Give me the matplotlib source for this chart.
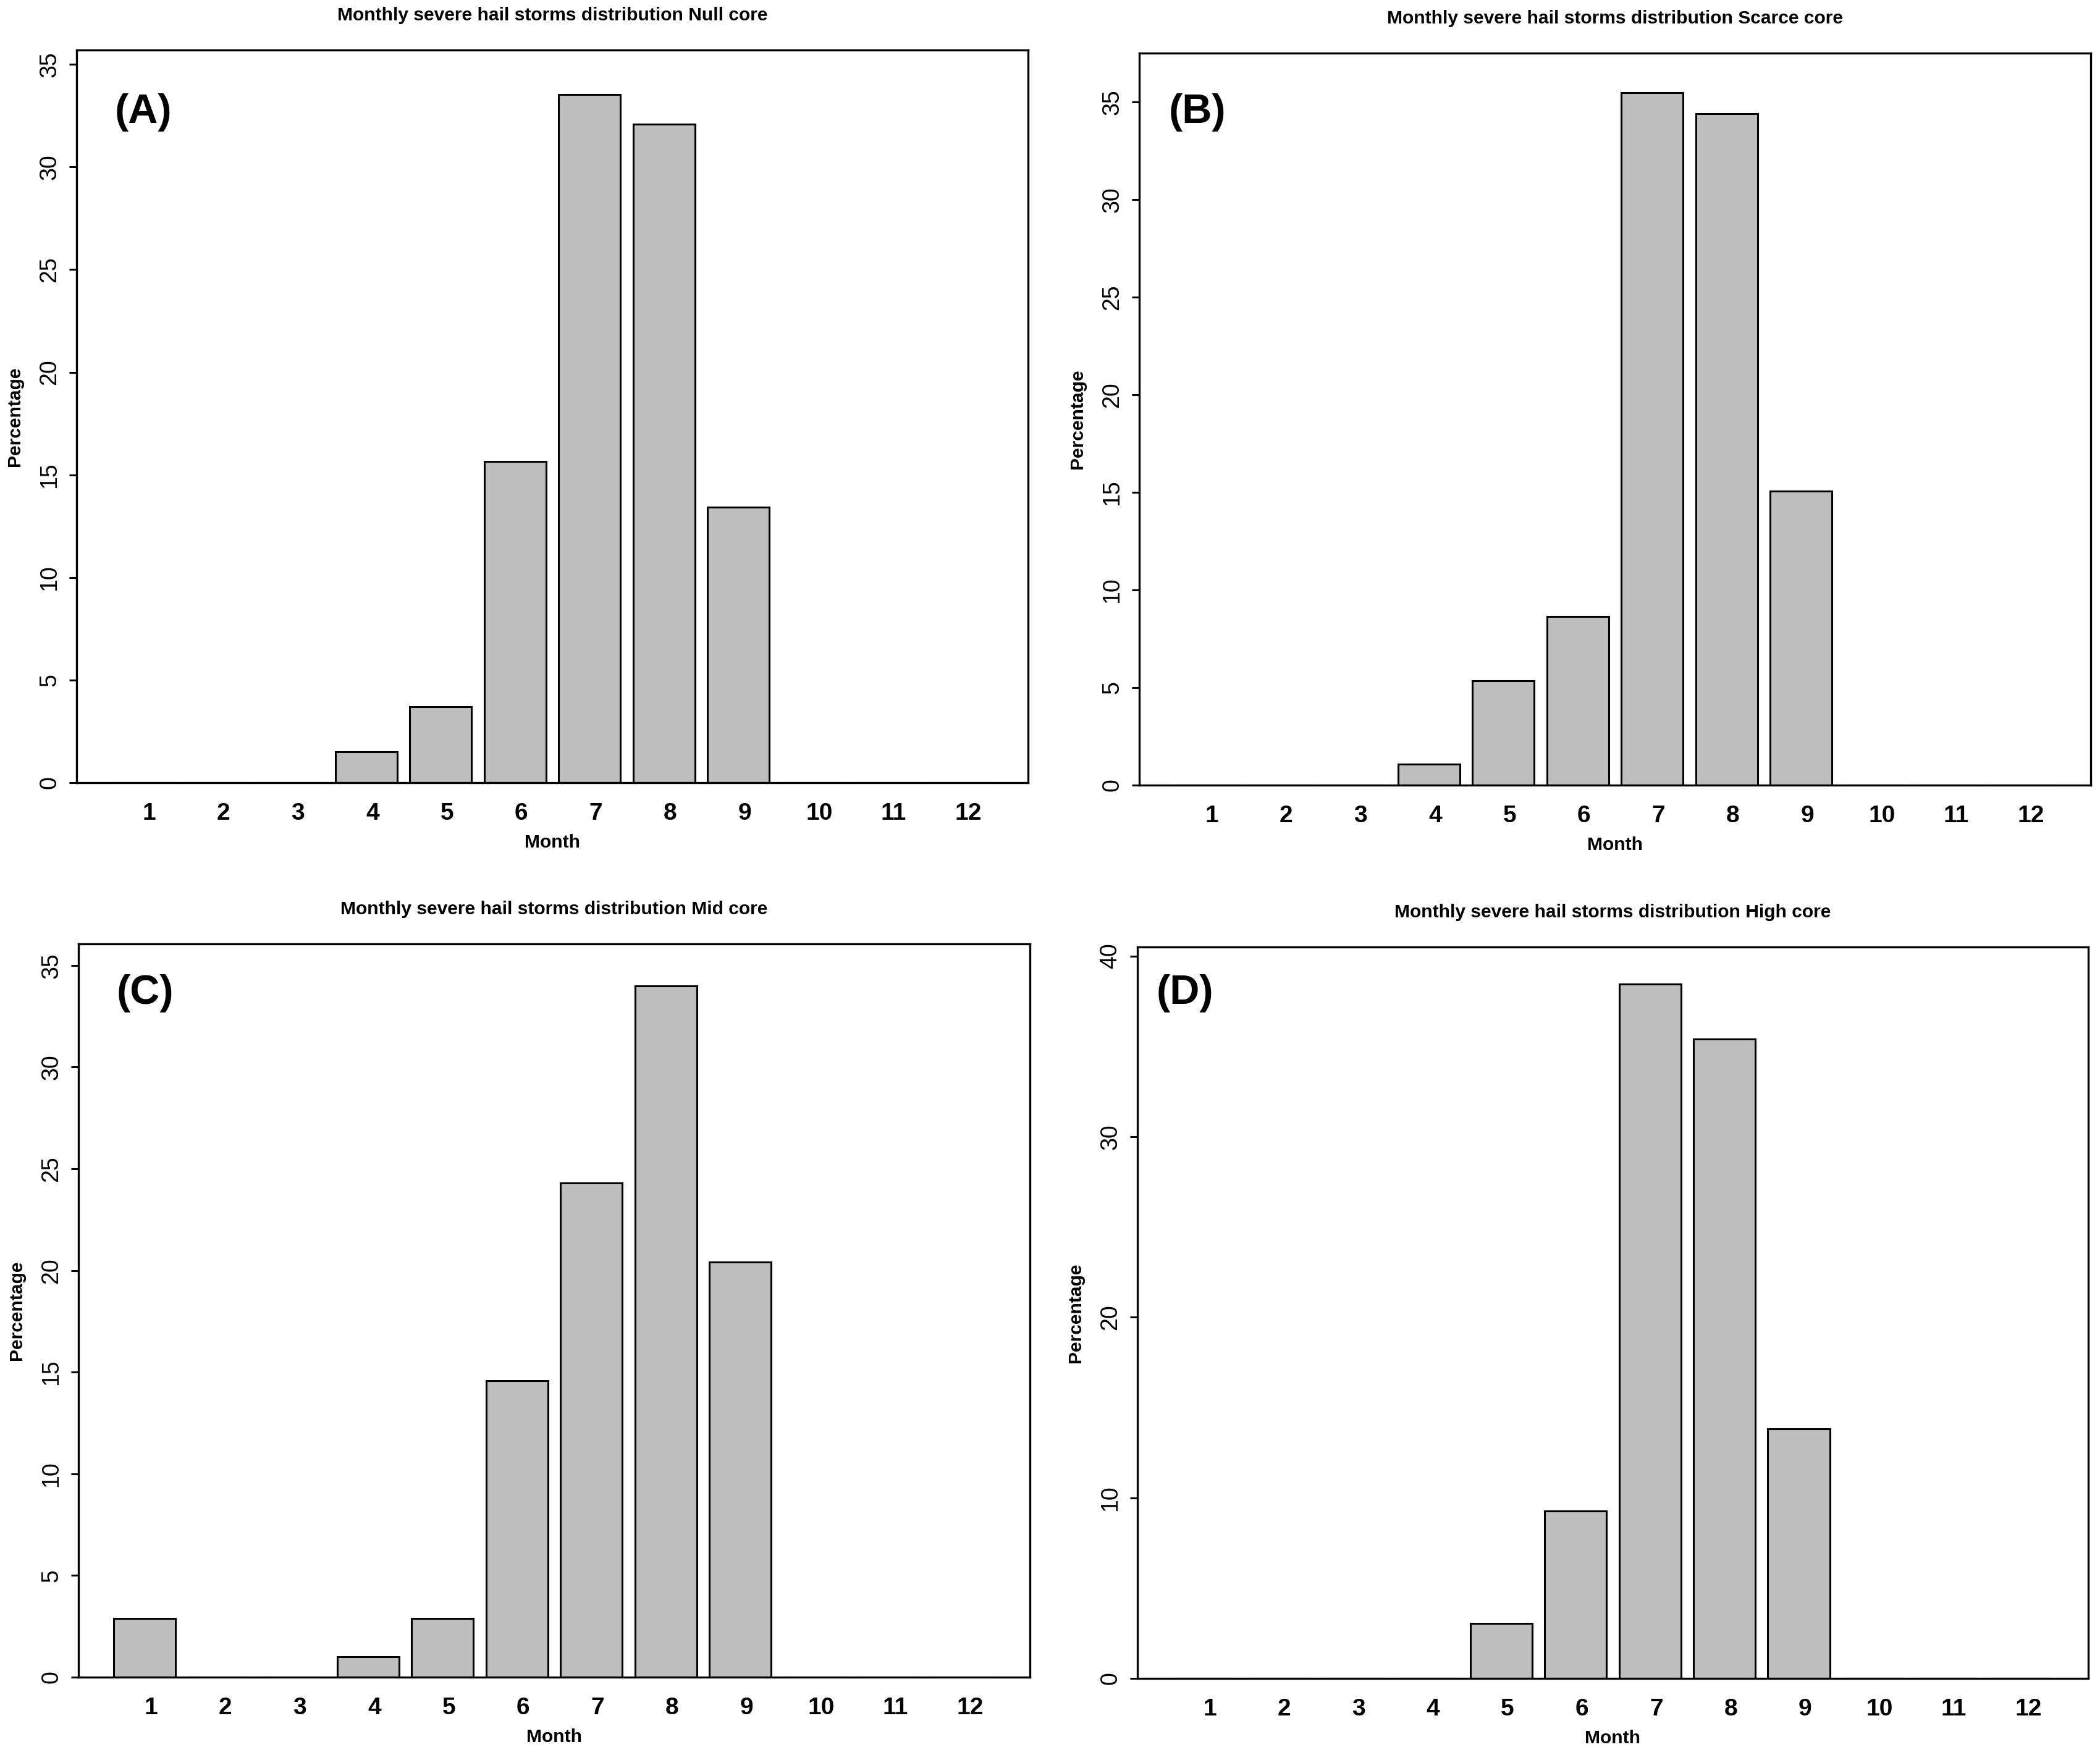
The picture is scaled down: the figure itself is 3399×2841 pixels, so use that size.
import numpy as np
import matplotlib
matplotlib.use("Agg")
import matplotlib.pyplot as plt

plt.rcParams['font.family'] = ['Liberation Sans', 'DejaVu Sans']

months = [str(m) for m in range(1, 13)]

# percentages per month for each core class
null_core = [0, 0, 0, 1.50, 3.70, 15.64, 33.53, 32.09, 13.43, 0, 0, 0]
scarce_core = [0, 0, 0, 1.09, 5.36, 8.63, 35.46, 34.39, 15.06, 0, 0, 0]
mid_core = [2.89, 0, 0, 0.99, 2.89, 14.59, 24.30, 33.99, 20.40, 0, 0, 0]
high_core = [0, 0, 0, 0, 3.04, 9.27, 38.45, 35.41, 13.83, 0, 0, 0]

titles = ["Monthly severe hail storms distribution Null core",
          "Monthly severe hail storms distribution Scarce core",
          "Monthly severe hail storms distribution Mid core",
          "Monthly severe hail storms distribution High core"]
letters = ["(A)", "(B)", "(C)", "(D)"]

fig = plt.figure(figsize=(3399 / 200, 2841 / 200), dpi=200)

# axes rectangles [left, bottom, width, height] in figure fraction
rects = [[0.03648, 0.55403, 0.45308, 0.41746],
         [0.54251, 0.55262, 0.45308, 0.41711],
         [0.03736, 0.04435, 0.45308, 0.41781],
         [0.54163, 0.04365, 0.45278, 0.41675]]
ytops = [35.7, 37.5, 36.06, 40.5]
ystep = [5, 5, 5, 10]
letter_pos = [(0.040, 0.915), (0.031, 0.919), (0.040, 0.933), (0.020, 0.937)]

# barplot-style positions: width 1, space 0.2
xpos = 0.7 + 1.2 * np.arange(len(months))

for i, vals in enumerate([null_core, scarce_core, mid_core, high_core]):
    ax = fig.add_axes(rects[i])
    ax.bar(xpos, vals, width=1.0, color='#BEBEBE', edgecolor='black', linewidth=1.1)
    ax.set_xlim(-0.368, 14.968)
    ax.set_ylim(0, ytops[i])
    # month labels sit a touch right of the bar centres in the original
    ax.set_xticks(xpos + 0.1)
    ax.set_xticklabels(months, fontsize=14, fontweight='bold')
    ax.tick_params(axis='x', length=0, pad=11.5)
    yt = np.arange(0, ytops[i], ystep[i])
    ax.set_yticks(yt)
    ax.set_yticklabels([str(int(v)) for v in yt], fontsize=13.5, rotation=90, va='center')
    ax.tick_params(axis='y', length=4.3, width=1.1, pad=5)
    for s in ax.spines.values():
        s.set_linewidth(1.2)
    ax.annotate(titles[i], xy=(0.5, 1), xycoords='axes fraction', xytext=(0, 20),
                textcoords='offset points', ha='center', va='center',
                fontsize=10.8, fontweight='bold')
    ax.annotate("Month", xy=(0.5, 0), xycoords='axes fraction', xytext=(0, -35),
                textcoords='offset points', ha='center', va='center',
                fontsize=10.8, fontweight='bold')
    ax.annotate("Percentage", xy=(0, 0.5), xycoords='axes fraction', xytext=(-36, 0),
                textcoords='offset points', ha='center', va='center', rotation=90,
                fontsize=10.8, fontweight='bold')
    ax.text(letter_pos[i][0], letter_pos[i][1], letters[i], transform=ax.transAxes,
            ha='left', va='center', fontsize=24, fontweight='bold')

fig.savefig("out.png", dpi=200)
